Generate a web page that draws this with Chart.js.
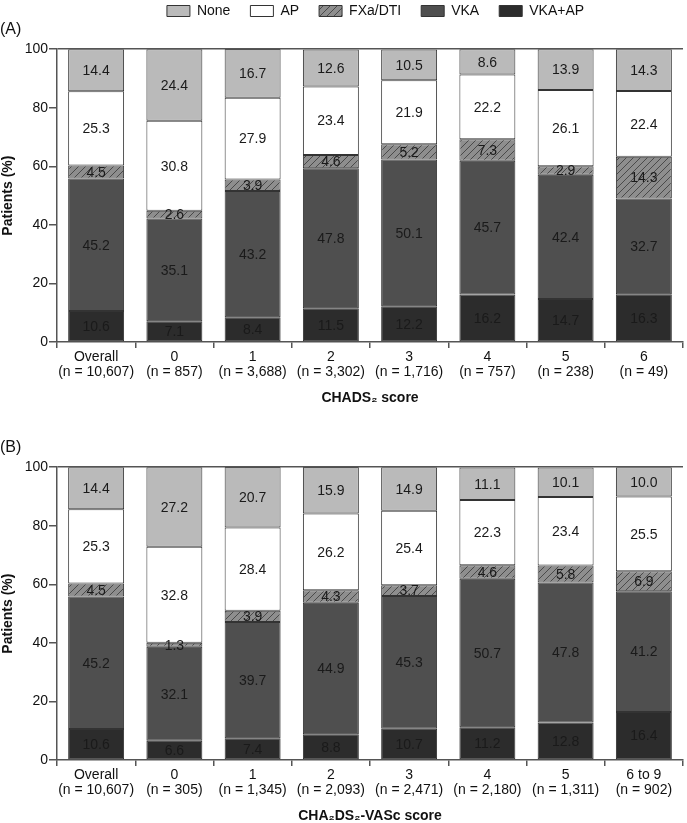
<!DOCTYPE html>
<html>
<head>
  <meta name="viewport" content="width=device-width, initial-scale=1.0">
  <script src="https://cdn.jsdelivr.net/npm/chart.js@4.4.1/dist/chart.umd.min.js"></script>
  <style>
    body { margin: 0; background: #fff; }
    .panel { position: relative; width: 687px; }
  </style>
</head>
<body>
  <div class="panel" style="height:411px"><canvas id="chartA"></canvas></div>
  <div class="panel" style="height:412px"><canvas id="chartB"></canvas></div>
  <script>
  // series names, bottom of the stack first
  const seriesNames = ['VKA+AP', 'VKA', 'FXa/DTI', 'AP', 'None'];

  // panel A: CHADS2 score
  const labelsA = [
    ['Overall', '(n = 10,607)'], ['0', '(n = 857)'], ['1', '(n = 3,688)'], ['2', '(n = 3,302)'],
    ['3', '(n = 1,716)'], ['4', '(n = 757)'], ['5', '(n = 238)'], ['6', '(n = 49)']
  ];
  const vkaApA  = [10.6, 7.1, 8.4, 11.5, 12.2, 16.2, 14.7, 16.3];
  const vkaA    = [45.2, 35.1, 43.2, 47.8, 50.1, 45.7, 42.4, 32.7];
  const fxaA    = [4.5, 2.6, 3.9, 4.6, 5.2, 7.3, 2.9, 14.3];
  const apA     = [25.3, 30.8, 27.9, 23.4, 21.9, 22.2, 26.1, 22.4];
  const noneA   = [14.4, 24.4, 16.7, 12.6, 10.5, 8.6, 13.9, 14.3];

  // panel B: CHA2DS2-VASc score
  const labelsB = [
    ['Overall', '(n = 10,607)'], ['0', '(n = 305)'], ['1', '(n = 1,345)'], ['2', '(n = 2,093)'],
    ['3', '(n = 2,471)'], ['4', '(n = 2,180)'], ['5', '(n = 1,311)'], ['6 to 9', '(n = 902)']
  ];
  const vkaApB  = [10.6, 6.6, 7.4, 8.8, 10.7, 11.2, 12.8, 16.4];
  const vkaB    = [45.2, 32.1, 39.7, 44.9, 45.3, 50.7, 47.8, 41.2];
  const fxaB    = [4.5, 1.3, 3.9, 4.3, 3.7, 4.6, 5.8, 6.9];
  const apB     = [25.3, 32.8, 28.4, 26.2, 25.4, 22.3, 23.4, 25.5];
  const noneB   = [14.4, 27.2, 20.7, 15.9, 14.9, 11.1, 10.1, 10.0];

  const yTicks = [0, 20, 40, 60, 80, 100];

  const FONT = "'Liberation Sans', Arial, sans-serif";
  const AXIS = '#555555';

  // diagonal hatch for FXa/DTI
  function hatch() {
    const c = document.createElement('canvas');
    c.width = 7; c.height = 7;
    const g = c.getContext('2d');
    g.fillStyle = '#8e8e8e';
    g.fillRect(0, 0, 7, 7);
    g.strokeStyle = '#4a4a4a';
    g.lineWidth = 1;
    g.beginPath();
    g.moveTo(-1, 8); g.lineTo(8, -1);
    g.moveTo(-1, 1); g.lineTo(1, -1);
    g.moveTo(6, 8); g.lineTo(8, 6);
    g.stroke();
    return g.createPattern(c, 'repeat');
  }
  const fills = ['#2c2c2c', '#4f4f4f', hatch(), '#ffffff', '#bababa'];

  // writes each value in the middle of its segment
  const segmentLabels = {
    id: 'segmentLabels',
    afterDatasetsDraw(chart) {
      const ctx = chart.ctx;
      ctx.save();
      ctx.font = '14px ' + FONT;
      ctx.fillStyle = '#1a1a1a';
      ctx.textAlign = 'center';
      ctx.textBaseline = 'middle';
      chart.data.datasets.forEach((ds, i) => {
        chart.getDatasetMeta(i).data.forEach((bar, j) => {
          const p = bar.getProps(['x', 'y', 'base'], true);
          ctx.fillText(ds.data[j].toFixed(1), p.x, (p.y + p.base) / 2 + 1);
        });
      });
      ctx.restore();
    }
  };

  // move the legend over the plot centre and down to the top edge
  const legendShift = {
    id: 'legendShift',
    afterLayout(chart) {
      if (chart.legend && chart.options.plugins.legend.display) {
        chart.legend.left += 34;
        chart.legend.right += 34;
        chart.legend.top += 10;
        chart.legend.bottom += 10;
      }
    }
  };

  function build(id, panel, labels, values, xTitle, showLegend) {
    new Chart(document.getElementById(id), {
      type: 'bar',
      data: {
        labels: labels,
        datasets: seriesNames.map((name, i) => ({
          label: name,
          data: values[i],
          backgroundColor: fills[i],
          borderColor: '#333333',
          borderWidth: 1,
          borderSkipped: false,
          barPercentage: 0.715,
          categoryPercentage: 1
        }))
      },
      plugins: [segmentLabels, legendShift],
      options: {
        responsive: true,
        maintainAspectRatio: false,
        animation: false,
        layout: { padding: showLegend ? { top: -26, right: 4, left: 0, bottom: 4 } : { top: 25, right: 4, left: 0, bottom: -2 } },
        plugins: {
          tooltip: { enabled: false },
          legend: {
            display: showLegend,
            reverse: true,
            weight: 3000,
            labels: {
              boxWidth: 23,
              boxHeight: 11,
              padding: 20,
              color: '#111',
              font: { family: FONT, size: 14 }
            }
          },
          title: {
            display: true,
            text: panel,
            align: 'start',
            color: '#111',
            font: { family: FONT, size: 16, weight: 'normal' },
            padding: { top: 2, bottom: 10 }
          }
        },
        scales: {
          x: {
            stacked: true,
            grid: { display: true, drawOnChartArea: false, offset: true, color: AXIS, tickLength: 6, lineWidth: 1.5 },
            border: { color: AXIS, width: 1.5 },
            ticks: { color: '#111', font: { family: FONT, size: 14, lineHeight: 1.08 }, maxRotation: 0, autoSkip: false, padding: 2 },
            title: { display: true, text: xTitle, color: '#111', font: { family: FONT, size: 14, weight: 'bold' }, padding: { top: 8, bottom: 0 } }
          },
          y: {
            stacked: true,
            min: 0,
            max: 100,
            afterBuildTicks(scale) { scale.ticks = yTicks.map(v => ({ value: v })); },
            afterFit(scale) { scale.width = 57; },
            grid: {
              drawOnChartArea: true,
              color: c => (c.tick && c.tick.value === 100 ? AXIS : 'rgba(0,0,0,0)'),
              tickColor: AXIS,
              tickLength: 8,
              lineWidth: 1.5
            },
            border: { color: AXIS, width: 1.5 },
            ticks: { color: '#111', font: { family: FONT, size: 14 }, padding: 1 },
            title: { display: true, text: 'Patients (%)', color: '#111', font: { family: FONT, size: 14, weight: 'bold' }, padding: { top: 0, bottom: 2 } }
          }
        }
      }
    });
  }

  build('chartA', '(A)', labelsA, [vkaApA, vkaA, fxaA, apA, noneA], 'CHADS\u2082 score', true);
  build('chartB', '(B)', labelsB, [vkaApB, vkaB, fxaB, apB, noneB], 'CHA\u2082DS\u2082-VASc score', false);
  </script>
</body>
</html>
